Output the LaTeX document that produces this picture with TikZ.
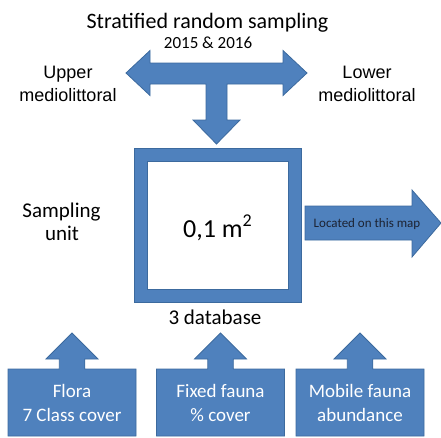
\documentclass[tikz,border=0pt]{standalone}
\usepackage{fontspec}
\setmainfont{Carlito}
\newfontfamily\arialfont{Liberation Sans}
\definecolor{shapeblue}{HTML}{4F81BD}
\definecolor{shapeedge}{HTML}{3C6A9E}
\definecolor{textdark}{HTML}{1C2333}
\begin{document}
\begin{tikzpicture}[x=1pt,y=-1pt,
  bluefill/.style={fill=shapeblue,draw=shapeedge,line width=0.8pt,line join=miter},
  lbl/.style={inner sep=0pt,anchor=base},
  zone/.style={lbl,font=\arialfont\fontsize{18}{21}\selectfont},
  upcallout/.pic={
    \draw[bluefill] (-64,67) -- (-64,0) -- (-12.75,0) -- (-12.75,-10) -- (-26,-10)
      -- (0,-36) -- (26,-10) -- (12.75,-10) -- (12.75,0) -- (64,0) -- (64,67) -- cycle;
  }]
\useasboundingbox (0,0) rectangle (441,437);

% titles
\node[lbl,font=\fontsize{22}{26}\selectfont] (title) at (207.5,28.5) {Stratified random sampling};
\node[lbl,font=\fontsize{17}{20}\selectfont] (years) at (208,48) {2015 \& 2016};

% T-shaped arrow: left/right heads and downward stem
\draw[bluefill] (126,73) -- (150,50.5) -- (150,63) -- (283,63) -- (283,50.5) -- (307,73)
  -- (283,95.5) -- (283,84) -- (227,84) -- (227,120) -- (240,120) -- (216.5,144)
  -- (193,120) -- (206,120) -- (206,84) -- (150,84) -- (150,95.5) -- cycle;

\node[zone] (up1) at (68,78) {Upper};
\node[zone] (up2) at (68,101) {mediolittoral};
\node[zone] (lo1) at (367,78) {Lower};
\node[zone] (lo2) at (367,101) {mediolittoral};

% sampling unit frame
\node[minimum width=166pt,minimum height=153pt,inner sep=0pt] (quad) at (218,225.5) {};
\filldraw[bluefill,even odd rule] (quad.north west) rectangle (quad.south east)
  ([xshift=13pt,yshift=-13pt]quad.north west) rectangle ([xshift=-13pt,yshift=13pt]quad.south east);
\node[lbl,font=\fontsize{26}{30}\selectfont] (area) at (217.5,237)
  {0,1 m\raisebox{11pt}{\fontsize{18}{20}\selectfont 2}};

\node[lbl,font=\fontsize{21}{25}\selectfont] (samp1) at (61.5,217) {Sampling};
\node[lbl,font=\fontsize{21}{25}\selectfont] (samp2) at (62,240) {unit};

% arrow to the map
\draw[bluefill] (305,206) -- (412,206) -- (412,190) -- (441,223) -- (412,257) -- (412,240) -- (305,240) -- cycle;
\node[lbl,font=\fontsize{13}{15}\selectfont,text=textdark] (map) at (367,227) {Located on this map};

\node[lbl,font=\fontsize{21}{25}\selectfont] (db) at (215,324) {3 database};

% the three databases
\pic at (72,369) {upcallout};
\pic at (220.5,369) {upcallout};
\pic at (360,369) {upcallout};

\node[lbl,font=\fontsize{19}{23}\selectfont,text=white] (fl1) at (72,397.5) {Flora};
\node[lbl,font=\fontsize{19}{23}\selectfont,text=white] (fl2) at (72,421.5) {7 Class cover};
\node[lbl,font=\fontsize{19}{23}\selectfont,text=white] (ff1) at (220.5,397.5) {Fixed fauna};
\node[lbl,font=\fontsize{19}{23}\selectfont,text=white] (ff2) at (220.5,421.5) {\% cover};
\node[lbl,font=\fontsize{19}{23}\selectfont,text=white] (mf1) at (360,397.5) {Mobile fauna};
\node[lbl,font=\fontsize{19}{23}\selectfont,text=white] (mf2) at (360,421.5) {abundance};
\end{tikzpicture}
\end{document}
